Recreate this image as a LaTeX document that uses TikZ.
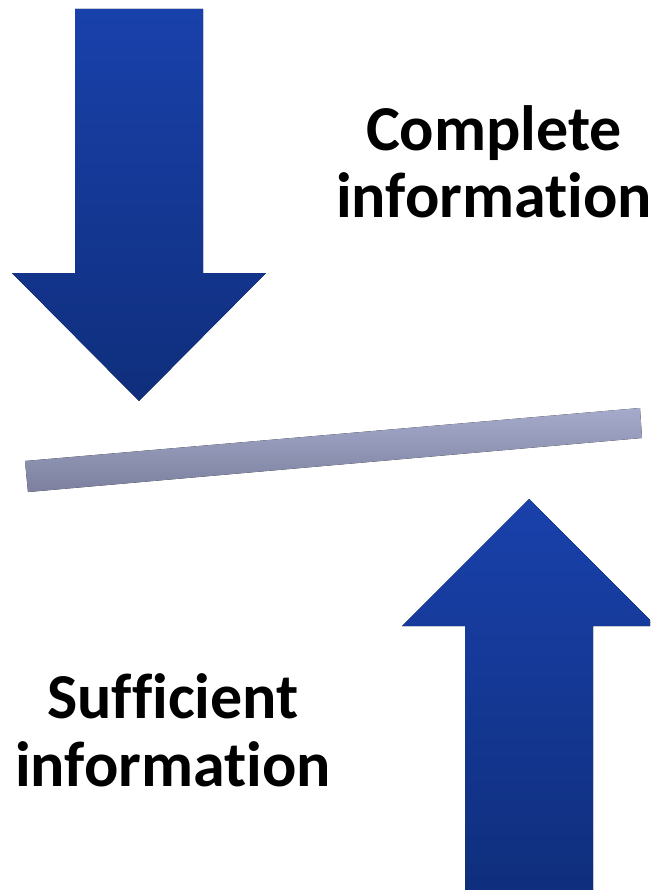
\documentclass[tikz,border=0pt]{standalone}
\usepackage{fontspec}
\setmainfont{Carlito}[Ligatures={NoCommon,NoContextual}]
\definecolor{arrtop}{RGB}{25,65,171}
\definecolor{arrbot}{RGB}{15,46,124}
\definecolor{bartop}{RGB}{166,171,204}
\definecolor{barbot}{RGB}{124,128,158}
\tikzset{
  bigarrow/.style={top color=arrtop, bottom color=arrbot, draw=none},
  barstyle/.style={top color=bartop, bottom color=barbot, draw=none},
  lbl/.style={anchor=base, inner sep=0pt, font=\fontsize{64}{70}\selectfont\bfseries, text=black}
}
\begin{document}
\begin{tikzpicture}[x=1pt,y=-1pt]
\useasboundingbox (0,0) rectangle (650,890);
\clip (0,0) rectangle (650,890);
\fill[white] (0,0) rectangle (650,890);
% down arrow
\fill[bigarrow] (75,9) -- (203,9) -- (203,273) -- (266,273) -- (139,401) -- (12,273) -- (75,273) -- cycle;
% up arrow
\fill[bigarrow] (529,499) -- (656,626) -- (593,626) -- (593,895) -- (465,895) -- (465,626) -- (402,626) -- cycle;
% bar
\fill[barstyle] (25,461) -- (640,408) -- (642,438) -- (28,492) -- cycle;
% labels
\node[lbl] (c1) at (494,151) {Complete};
\node[lbl] (c2) at (494,218) {information};
\node[lbl] (s1) at (173,718) {Sufficient};
\node[lbl] (s2) at (173,786) {information};
\end{tikzpicture}
\end{document}
